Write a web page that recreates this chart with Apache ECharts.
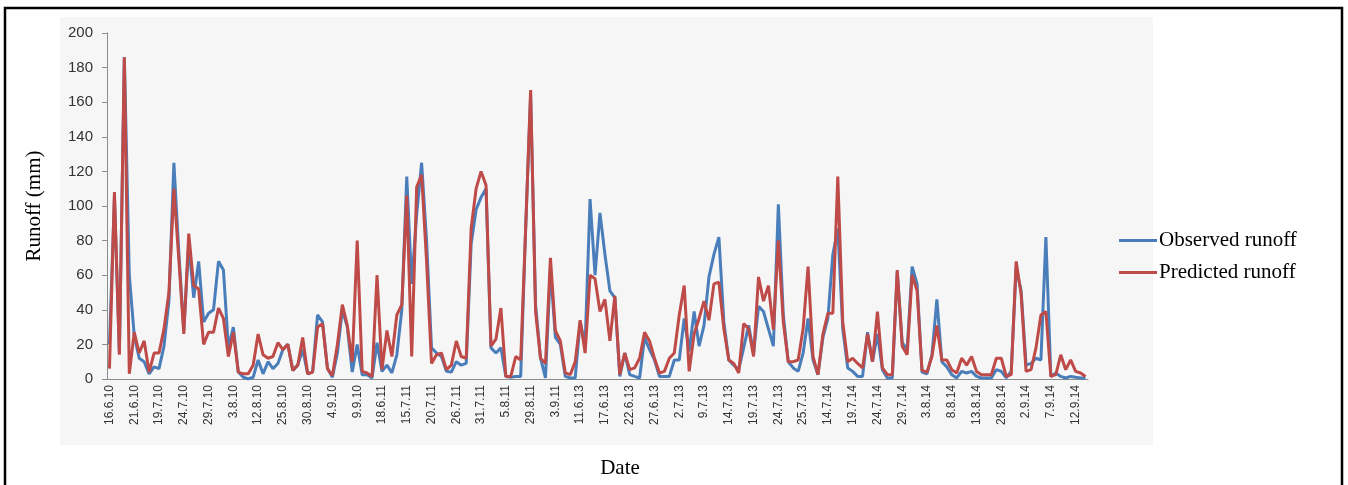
<!DOCTYPE html>
<html>
<head>
<meta charset="utf-8">
<script src="https://cdn.jsdelivr.net/npm/echarts@6/dist/echarts.min.js"></script>
<style>
html,body{margin:0;padding:0;background:#fff;overflow:hidden;}
#chart{width:1348px;height:485px;}
</style>
</head>
<body>
<div id="chart"></div>
<script>
var tickLabels = ['16.6.10','21.6.10','19.7.10','24.7.10','29.7.10','3.8.10','12.8.10','25.8.10','30.8.10','4.9.10',
  '9.9.10','18.6.11','15.7.11','20.7.11','26.7.11','31.7.11','5.8.11','29.8.11','3.9.11','11.6.13',
  '17.6.13','22.6.13','27.6.13','2.7.13','9.7.13','14.7.13','19.7.13','24.7.13','25.7.13','14.7.14',
  '19.7.14','24.7.14','29.7.14','3.8.14','8.8.14','13.8.14','28.8.14','2.9.14','7.9.14','12.9.14'];

var observed = [20,105,15,186,60,25,12,10,3,7,
  6,19,45,125,73,28,78,47,68,33,
  38,40,68,63,18,30,4,1,0,1,
  11,3,10,6,9,17,20,5,8,17,
  3,4,37,33,6,1,15,40,30,4,
  20,2.5,2.5,0.6,21,4.4,8,3.5,14,40,
  117,55,95,125,80,18,15,13,4.4,4,
  10,8,9,78,98,105,110,18,15,18,
  1.5,1,1.5,1.5,87,164,43,12,0.6,64,
  24,20,1.5,0.6,0.6,33,20,104,60,96,
  72,51,47,1.5,15,2.5,1.5,0.6,24,17,
  11,1.5,1.5,1.5,11,11,35,16,39,19,
  31,59,72,82,33,11,8,5.4,18,31,
  15,42,39,29,19,101,37,10,6.4,4.4,
  15,35,11,2.5,24,35,72,87,29,6.4,
  4.4,1.5,1.5,27,10,26,5.4,0.6,0.6,62,
  21,17,65,55,4,3,14,46,10,7,
  2.5,0.6,4.4,3.5,4.4,1.5,0.6,0.6,0.6,5.4,
  4.4,0.6,4.4,64,51,8,9,12,11,82,
  1.5,3.5,1.5,0.6,1.5,1,0.6,0.6];

var predicted = [6,108,14,186,3,27,15,22,4,15,
  15,29,50,110,69,26,84,54,52,20,
  27,27,41,35,13,27,4,3,3,8,
  26,14,12,13,21,17,20,5,8,24,
  3,4,30,32,6,2,20,43,31,10,
  80,4.4,3.5,1.5,60,5.4,28,13,37,43,
  106,13,111,118,68,9,14,15,5.4,8,
  22,13,12,87,110,120,112,19,23,41,
  1.5,1.5,13,11,87,167,39,12,9,70,
  28,22,3.5,2.5,10,34,15,60,58,39,
  46,22,48,2.5,15,5.4,6.4,12,27,22,
  12,3.5,4.4,12,15,37,54,4.4,26,35,
  45,34,55,56,29,11,9,3.5,32,29,
  13,59,45,54,28.5,80,33,10,10,11,
  29,65,13,2.5,26,38,38,117,33,10,
  12,9,6.4,26,10,39,6.4,2.5,2.5,63,
  19,14,60,51,5,4,13,31,11,11,
  5.4,3.5,12,8,13,4.4,2.5,2.5,2.5,12,
  12,1.5,2.5,68,49,4.4,5.4,18,37,39,
  1.5,2.5,14,5.4,11,4.4,3.5,1.5];

var categories = observed.map(function (v, i) {
  return i % 5 === 0 ? tickLabels[i / 5] : 'd' + i;
});

var chart = echarts.init(document.getElementById('chart'), null, {renderer: 'canvas'});
chart.setOption({
  animation: false,
  backgroundColor: '#ffffff',
  graphic: [
    {type: 'rect', z: -10, shape: {x: 60, y: 17, width: 1093, height: 428}, style: {fill: '#f6f6f6'}},
    {type: 'rect', z: 100, shape: {x: 5, y: 8, width: 1337, height: 485}, style: {fill: 'none', stroke: '#000', lineWidth: 2.5}},
    {type: 'text', z: 50, x: 620, y: 468, style: {text: 'Date', fontFamily: 'Liberation Serif', fontSize: 21, fill: '#000', textAlign: 'center', textVerticalAlign: 'middle'}}
  ],
  grid: {left: 107, right: 260, top: 33, bottom: 106, containLabel: false, outerBoundsMode: 'none'},
  legend: {
    orient: 'vertical',
    left: 1114,
    top: 225,
    itemGap: 11,
    itemWidth: 38,
    itemHeight: 3,
    icon: 'rect',
    textStyle: {fontFamily: 'Liberation Serif', fontSize: 21, color: '#000', lineHeight: 21, padding: [0, 0, 0, -3]},
    data: ['Observed runoff', 'Predicted runoff']
  },
  xAxis: {
    type: 'category',
    data: categories,
    boundaryGap: true,
    axisLine: {lineStyle: {color: '#8c8c8c', width: 1}},
    axisTick: {show: false},
    axisLabel: {
      interval: 4,
      rotate: 90,
      margin: 6,
      fontFamily: 'Liberation Sans',
      fontSize: 12,
      color: '#333333',
      formatter: function (v, idx) { return idx % 5 === 0 ? tickLabels[idx / 5] : ''; }
    },
    splitLine: {show: false}
  },
  yAxis: {
    type: 'value',
    min: 0,
    max: 200,
    interval: 20,
    name: 'Runoff (mm)',
    nameLocation: 'middle',
    nameGap: 62,
    nameRotate: 90,
    nameTextStyle: {fontFamily: 'Liberation Serif', fontSize: 21, color: '#000'},
    axisLine: {show: true, lineStyle: {color: '#8c8c8c', width: 1}},
    axisTick: {show: true, length: 5, lineStyle: {color: '#8c8c8c'}},
    axisLabel: {fontFamily: 'Liberation Sans', fontSize: 15, color: '#333333', margin: 14},
    splitLine: {show: false}
  },
  series: [
    {
      name: 'Observed runoff',
      type: 'line',
      data: observed,
      symbol: 'none',
      lineStyle: {color: '#4a7ebb', width: 3},
      itemStyle: {color: '#4a7ebb'}
    },
    {
      name: 'Predicted runoff',
      type: 'line',
      data: predicted,
      symbol: 'none',
      lineStyle: {color: '#be4b48', width: 3},
      itemStyle: {color: '#be4b48'}
    }
  ]
});
</script>
</body>
</html>
